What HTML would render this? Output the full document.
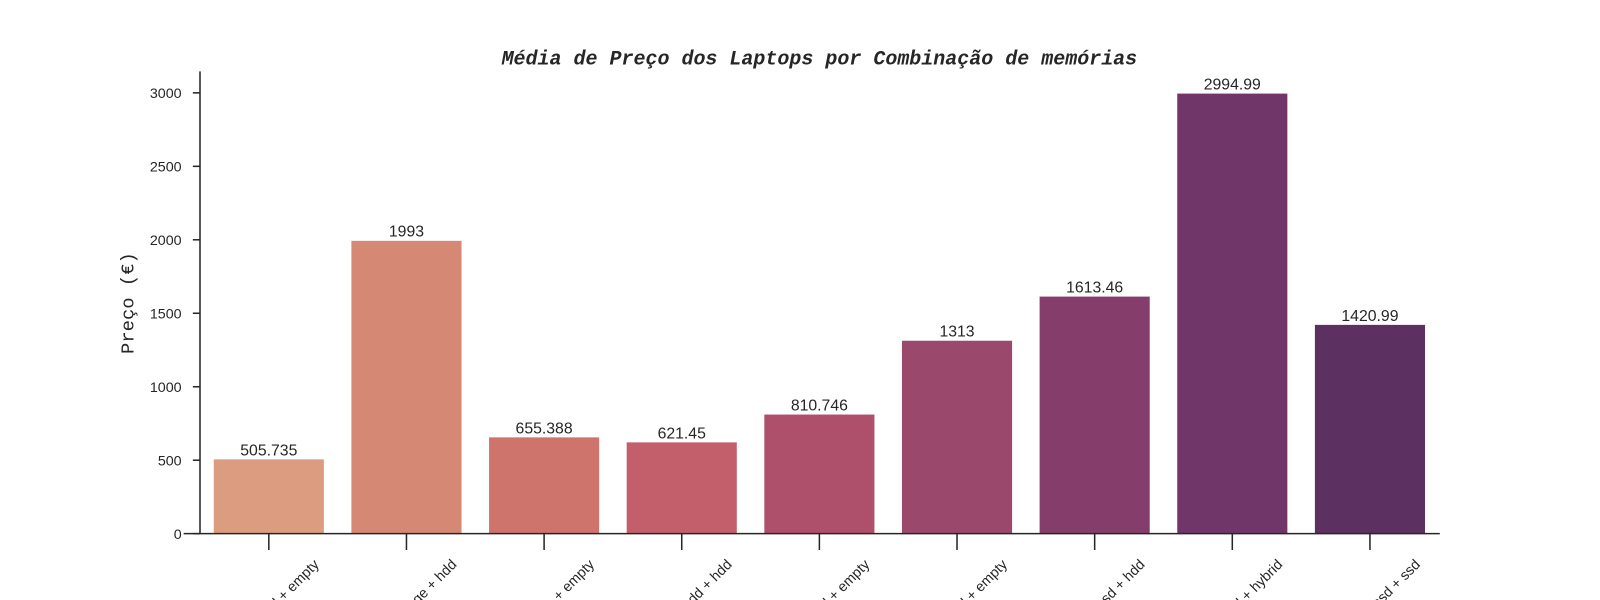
<!DOCTYPE html>
<html><head><meta charset="utf-8"><style>
html,body{margin:0;padding:0;background:#fff;width:1600px;height:600px;overflow:hidden}
svg text{font-family:"Liberation Sans",sans-serif;fill:#262626}
</style></head><body>
<svg id="chart" width="1600" height="600" xmlns="http://www.w3.org/2000/svg" style="overflow:hidden">
<g transform="scale(1.0204)">
<text x="803" y="63" text-anchor="middle" style="font-family:'Liberation Mono',monospace;font-size:19.6px;font-weight:bold;font-style:italic">Média de Preço dos Laptops por Combinação de memórias</text>
<text transform="translate(131,297) rotate(-90)" text-anchor="middle" style="font-family:'Liberation Mono',monospace;font-size:18.5px">Preço (€)</text>
<g id="ticks"></g><g id="bars"></g><g id="labels"></g>
<line x1="196" y1="70" x2="196" y2="523" stroke="#262626" stroke-width="1.5"/>
<line x1="180" y1="523" x2="1411" y2="523" stroke="#262626" stroke-width="1.5"/>
</g>
</svg>
<script>
const categories=["hdd + empty","flash storage + hdd","flash storage + empty","hdd + hdd","hybrid + empty","ssd + empty","ssd + hdd","ssd + hybrid","ssd + ssd"];
const values=[505.735,1993,655.388,621.45,810.746,1313,1613.46,2994.99,1420.99];
const valueLabels=["505.735","1993","655.388","621.45","810.746","1313","1613.46","2994.99","1420.99"];
const yTicks=[0,500,1000,1500,2000,2500,3000];
const colors=["#dc9c80","#d58874","#cf746d","#c35f6b","#ae506b","#9a486b","#853e6b","#70366a","#5c3060"];
const NS="http://www.w3.org/2000/svg";
const x0=196,x1=1410,yBase=523,yScale=432/3000;
const band=(x1-x0)/categories.length;
const xc=i=>x0+band*(i+0.5);
const y=v=>yBase-v*yScale;
function mk(tag,attrs,parent){const e=document.createElementNS(NS,tag);for(const k in attrs)e.setAttribute(k,attrs[k]);document.getElementById(parent).appendChild(e);return e;}
yTicks.forEach(t=>{
  const l=mk('line',{x1:189,x2:196,y1:y(t),y2:y(t),stroke:'#262626','stroke-width':1.5},'ticks');
  
  
  const tx=mk('text',{x:178,y:y(t)+5,'text-anchor':'end','font-size':14},'ticks');
  tx.textContent=t;
  
  
});
categories.forEach((c,i)=>{
  const bw=band*0.8;
  const r=mk('rect',{x:xc(i)-bw/2,y:y(values[i]),width:bw,height:values[i]*yScale,fill:colors[i]},'bars');
  
  
  const v=mk('text',{x:xc(i),y:y(values[i])-4,'text-anchor':'middle','font-size':15.5},'labels');
  v.textContent=valueLabels[i];
  
  
  const tk=mk('line',{x1:xc(i),x2:xc(i),y1:523,y2:539,stroke:'#262626','stroke-width':1.5},'ticks');
  
  
  const ax=xc(i)+50,ay=554;
  const xl=mk('text',{x:ax,y:ay,'text-anchor':'end','font-size':14,transform:`rotate(-45 ${ax} ${ay})`},'labels');
  xl.textContent=c;
  
  
});
</script>
</body></html>
